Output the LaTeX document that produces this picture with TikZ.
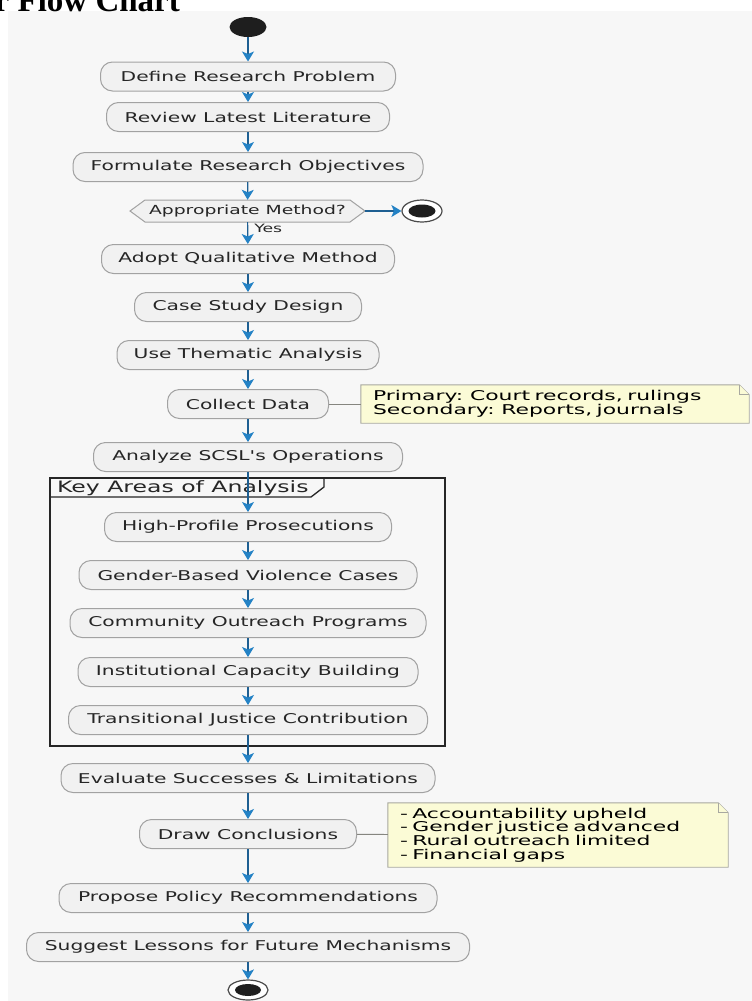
\documentclass[tikz,border=0pt]{standalone}
\usepackage{fontspec}
\usetikzlibrary{arrows.meta,backgrounds,shapes.geometric}
\newfontfamily\boxfont[FakeStretch=1.5]{DejaVu Sans}
\newfontfamily\notefont[FakeStretch=1.62]{DejaVu Sans}
\newfontfamily\titlefont{Liberation Serif}
\definecolor{panel}{HTML}{F7F7F7}
\definecolor{boxfill}{HTML}{F1F1F1}
\definecolor{boxdraw}{HTML}{A2A2A2}
\definecolor{arrline}{HTML}{1E5F92}
\definecolor{arrhead}{HTML}{2482C5}
\definecolor{notefill}{HTML}{FBFBD6}
\definecolor{notedraw}{HTML}{A8A8A0}
\definecolor{txt}{HTML}{262626}
\definecolor{dotblack}{HTML}{1E1E1E}
\begin{document}
\begin{tikzpicture}[x=1pt,y=-1pt,
  act/.style={draw=boxdraw, fill=boxfill, line width=1pt, rounded corners=12pt,
    minimum height=29pt, inner sep=0pt, text=txt,
    font=\boxfont\fontsize{13.5}{16}\selectfont},
  dectext/.style={inner sep=0pt, minimum width=235pt, minimum height=22pt, text=txt,
    font=\boxfont\fontsize{12.5}{15}\selectfont},
  flow/.style={draw=arrline, line width=1.2pt,
    -{Stealth[length=10pt,width=12pt,inset=2.5pt,color=arrhead]}},
  yeslbl/.style={inner sep=1pt, text=txt, font=\boxfont\fontsize{11.5}{13}\selectfont},
  notebox/.style={inner ysep=0pt, inner xsep=12pt, align=left, text=black,
    font=\notefont\fontsize{13.5}{13.8}\selectfont},
  noteshape/.style={draw=notedraw, fill=notefill, line width=0.9pt},
  noteline/.style={draw=notedraw!80!black, line width=0.9pt},
  startdot/.style={ellipse, fill=dotblack, inner sep=0pt},
  endring/.style={ellipse, draw=dotblack!80, line width=1.2pt, fill=white, inner sep=0pt},
  groupframe/.style={draw=black!85, line width=1.8pt},
  grouplbl/.style={inner sep=0pt, text=txt, font=\boxfont\fontsize{15.7}{18}\selectfont}
]
\useasboundingbox (0,0) rectangle (752,1001);
% title (cut off at the top)
\begin{scope}
  \clip (0,0) rectangle (752,11.5);
  \node[anchor=base west, inner sep=0pt,
        font=\titlefont\bfseries\fontsize{33}{36}\selectfont] (title) at (-5.5,12) {r Flow Chart};
\end{scope}

% start
\node[startdot, minimum width=37pt, minimum height=20pt] (start) at (248,27) {};

% main flow
\node[act, minimum width=295pt] (define) at (248,76.5) {Define Research Problem};
\node[act, minimum width=283pt] (review) at (248,117) {Review Latest Literature};
\node[act, minimum width=350pt] (formulate) at (248,167) {Formulate Research Objectives};

% decision
\fill[boxfill] (130,211) -- (145,200) -- (350,200) -- (365,211) -- (350,222) -- (145,222) -- cycle;
\draw[boxdraw, line width=1pt] (130,211) -- (145,200) -- (350,200) -- (365,211) -- (350,222) -- (145,222) -- cycle;
\node[dectext] (dec) at (247.5,211) {Appropriate Method?};
\node[endring, minimum width=40pt, minimum height=22pt] (end1) at (422,211) {};
\node[startdot, minimum width=27pt, minimum height=13pt] (end1dot) at (422,211) {};

\node[act, minimum width=293pt] (adopt) at (248,259) {Adopt Qualitative Method};
\node[act, minimum width=227pt] (case) at (248,307) {Case Study Design};
\node[act, minimum width=262pt] (use) at (248,355) {Use Thematic Analysis};
\node[act, minimum width=161pt] (collect) at (248,404) {Collect Data};
\node[act, minimum width=309pt] (analyze) at (248,457) {Analyze SCSL's Operations};

% group
\draw[groupframe] (50,478) rectangle (445,746);
\draw[groupframe, line width=1.3pt] (50,497) -- (311,497) -- (324,487) -- (324,478);
\node[grouplbl, anchor=west] (glabel) at (57,488) {Key Areas of Analysis};

\node[act, minimum width=287pt] (high) at (248,527) {High-Profile Prosecutions};
\node[act, minimum width=338pt] (gender) at (248,575) {Gender-Based Violence Cases};
\node[act, minimum width=356pt] (community) at (248,623) {Community Outreach Programs};
\node[act, minimum width=340pt] (inst) at (248,672) {Institutional Capacity Building};
\node[act, minimum width=359pt] (trans) at (248,720) {Transitional Justice Contribution};

\node[act, minimum width=374pt] (evaluate) at (248,778) {Evaluate Successes \& Limitations};
\node[act, minimum width=217pt] (draw) at (248,834) {Draw Conclusions};
\node[act, minimum width=378pt] (propose) at (248,898) {Propose Policy Recommendations};
\node[act, minimum width=443pt] (suggest) at (248,947) {Suggest Lessons for Future Mechanisms};

\node[endring, minimum width=40pt, minimum height=20pt] (end2) at (248,990) {};
\node[startdot, minimum width=26pt, minimum height=12pt] (end2dot) at (248,990) {};

% notes
\node[notebox, minimum width=388pt, minimum height=38pt, text width=364pt] (n1) at (555,404)
  {Primary: Court records, rulings\\Secondary: Reports, journals};
\node[notebox, minimum width=340pt, minimum height=64pt, text width=316pt] (n2) at (558,835)
  {- Accountability upheld\\- Gender justice advanced\\- Rural outreach limited\\- Financial gaps};
\begin{scope}[on background layer]
  \fill[white] (0,0) rectangle (752,11);
  \fill[panel] (8,11) rectangle (752,1001);
  \draw[noteshape] (n1.north west) -- ([xshift=-10pt]n1.north east) -- ([yshift=-10pt]n1.north east)
     -- (n1.south east) -- (n1.south west) -- cycle;
  \draw[noteshape] ([xshift=-10pt]n1.north east) -- ([xshift=-10pt,yshift=-10pt]n1.north east)
     -- ([yshift=-10pt]n1.north east);
  \draw[noteshape] (n2.north west) -- ([xshift=-10pt]n2.north east) -- ([yshift=-10pt]n2.north east)
     -- (n2.south east) -- (n2.south west) -- cycle;
  \draw[noteshape] ([xshift=-10pt]n2.north east) -- ([xshift=-10pt,yshift=-10pt]n2.north east)
     -- ([yshift=-10pt]n2.north east);
\end{scope}
\draw[noteline] (collect) -- (n1);
\draw[noteline] (draw) -- (n2);

% connectors
\draw[flow] (start) -- (define);
\draw[flow] (define) -- (review);
\draw[flow] (review) -- (formulate);
\draw[flow] (formulate) -- (dec);
\draw[flow] (dec) -- (end1);
\draw[flow] (dec) -- node[yeslbl, pos=0.3, anchor=west, xshift=5pt] (yes) {Yes} (adopt);
\draw[flow] (adopt) -- (case);
\draw[flow] (case) -- (use);
\draw[flow] (use) -- (collect);
\draw[flow] (collect) -- (analyze);
\draw[flow] (analyze) -- (high);
\draw[flow] (high) -- (gender);
\draw[flow] (gender) -- (community);
\draw[flow] (community) -- (inst);
\draw[flow] (inst) -- (trans);
\draw[flow] (trans) -- (evaluate);
\draw[flow] (evaluate) -- (draw);
\draw[flow] (draw) -- (propose);
\draw[flow] (propose) -- (suggest);
\draw[flow] (suggest) -- (end2);
\end{tikzpicture}
\end{document}
